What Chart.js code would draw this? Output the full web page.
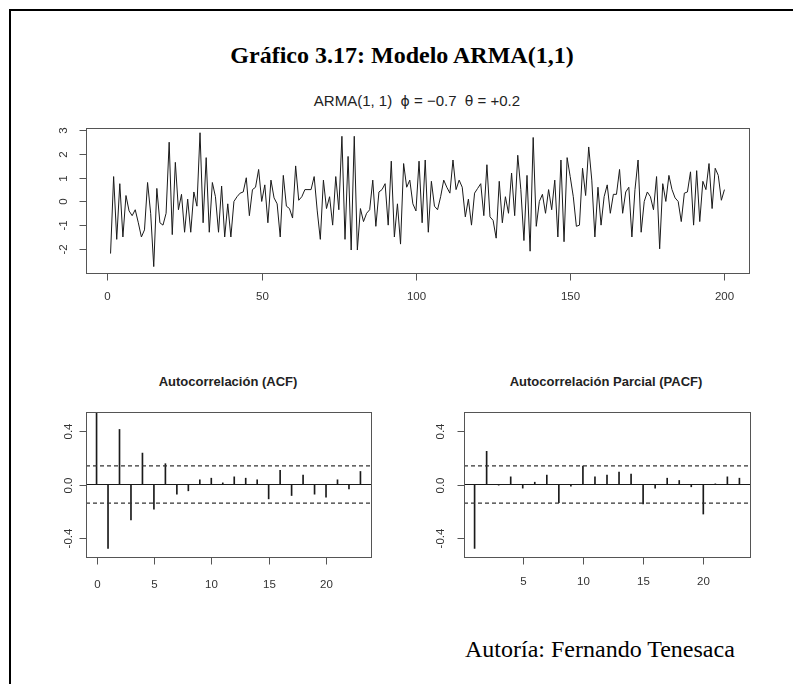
<!DOCTYPE html>
<html>
<head>
<meta charset="utf-8">
<script src="https://cdn.jsdelivr.net/npm/chart.js@4"></script>
<style>
    body { margin: 0; background: #fff; width: 793px; height: 684px; overflow: hidden; position: relative; }
    canvas { position: absolute; left: 0; top: 0; }
    .frame { position: absolute; left: 9px; top: 9px; width: 800px; height: 700px; border-top: 2px solid #000; border-left: 2px solid #000; }
    .txt { position: absolute; white-space: nowrap; line-height: 1; color: #000; }
    .main { font: bold 24px "Liberation Serif", "Times New Roman", serif; left: 402px; top: 42px; transform: translateX(-50%); }
    .sub { font: 15px "Liberation Sans", Arial, sans-serif; left: 417px; top: 92px; transform: translateX(-50%); color: #222; }
    .sub .g { font-family: "DejaVu Sans", sans-serif; font-size: 14px; }
    .ptitle { font: bold 13px "Liberation Sans", Arial, sans-serif; top: 374px; transform: translateX(-50%); color: #222; }
    .foot { font: 24px "Liberation Serif", "Times New Roman", serif; left: 465px; top: 636px; }
</style>
</head>
<body>
<div class="frame"></div>
<div class="txt main">Gráfico 3.17: Modelo ARMA(1,1)</div>
<div class="txt sub">ARMA(1, 1)&nbsp;&nbsp;<span class="g">ϕ</span> = −0.7&nbsp;&nbsp;<span class="g">θ</span> = +0.2</div>
<div class="txt ptitle" style="left:228px">Autocorrelación (ACF)</div>
<div class="txt ptitle" style="left:606px">Autocorrelación Parcial (PACF)</div>
<div class="txt foot">Autoría: Fernando Tenesaca</div>

<canvas id="seriesChart" width="793" height="684"></canvas>
<canvas id="acfChart" width="793" height="684"></canvas>
<canvas id="pacfChart" width="793" height="684"></canvas>

<script>
// simulated ARMA(1,1) series, t = 1..200
const series = [
    -2.2, 1.05, -1.6, 0.75, -1.5, 0.25, -0.4, -0.6, -0.35, -0.9,
    -1.5, -1.2, 0.8, -0.5, -2.75, 0.55, -0.9, -1.0, -0.5, 2.5,
    -1.4, 1.65, -0.35, 0.3, -1.3, 0.1, -1.3, 0.4, -0.2, 2.9,
    -0.9, 1.85, -1.3, 0.8, 0.2, -1.3, 0.65, -1.5, -0.1, -1.5,
    0.0, 0.2, 0.35, 0.4, 1.0, -0.6, 0.5, 0.6, 1.35, 0.0,
    0.7, -0.9, 0.9, 0.15, -0.1, -1.5, 1.1, -0.2, -0.3, -0.7,
    1.5, 0.05, 0.2, 0.5, 0.5, 0.5, 1.05, -0.4, -1.6, 0.9,
    -0.3, 0.2, -1.0, 1.05, -0.35, 2.75, -1.6, 1.9, -2.05, 2.75,
    -2.05, -0.3, -0.85, -0.5, -0.35, 0.9, -1.05, 0.4, 0.5, 0.75,
    -1.0, 1.7, -1.5, -0.1, -1.8, 1.6, 0.6, 0.9, -0.1, -0.4,
    1.7, -0.9, 1.75, -1.3, 0.85, -0.2, -0.35, 0.2, 0.9, 0.6,
    0.35, 1.75, 0.5, 0.9, 0.6, -0.65, 0.1, -1.0, 0.35, 0.55,
    0.75, -0.6, 1.55, -0.65, -0.8, -1.55, 0.85, -0.9, 0.2, -0.5,
    1.2, -0.6, 1.95, 0.5, -1.65, 1.1, -2.1, 2.7, -1.05, 0.0,
    0.3, -0.5, 0.5, -0.35, 0.9, -1.5, 1.75, -1.7, 1.85, 1.05,
    0.2, -1.05, -1.0, 1.4, 0.25, 2.3, 0.9, -1.5, 0.6, -1.0,
    0.2, 0.7, -0.5, 0.3, 0.3, 1.35, -0.5, 0.4, 0.6, -1.5,
    0.5, 1.75, -1.3, 0.0, 0.4, 0.2, -0.35, 1.05, -2.0, 0.75,
    0.0, 1.1, 0.5, 0.15, 0.0, -0.85, 0.35, 0.4, 1.25, -1.0,
    1.3, -0.85, 0.85, 0.5, 1.6, -0.3, 1.4, 1.1, 0.05, 0.5
];

const acfLags = [0, 1, 2, 3, 4, 5, 6, 7, 8, 9, 10, 11, 12, 13, 14, 15, 16, 17, 18, 19, 20, 21, 22, 23];
const acfValues = [1, -0.476, 0.41, -0.264, 0.234, -0.184, 0.155, -0.072, -0.047, 0.035, 0.047, 0.012,
    0.057, 0.047, 0.035, -0.107, 0.105, -0.082, 0.07, -0.072, -0.095, 0.035, -0.032, 0.097];

const pacfLags = [1, 2, 3, 4, 5, 6, 7, 8, 9, 10, 11, 12, 13, 14, 15, 16, 17, 18, 19, 20, 21, 22, 23];
const pacfValues = [-0.476, 0.247, -0.005, 0.057, -0.027, 0.017, 0.07, -0.135, -0.012, 0.137, 0.057, 0.07,
    0.092, 0.077, -0.145, -0.027, 0.047, 0.03, -0.017, -0.22, 0.005, 0.057, 0.047];

const confLimit = 0.139; // dashed band

const seriesXTicks = [0, 50, 100, 150, 200];
const seriesYTicks = [-2, -1, 0, 1, 2, 3];
const acfXTicks = [0, 5, 10, 15, 20];
const pacfXTicks = [5, 10, 15, 20];
const corrYTicks = [-0.4, 0.0, 0.4];
const corrYLabels = ['-0.4', '0.0', '0.4'];

// R style box + outward ticks
function rAxes(cfg) {
    return {
        id: 'rAxes',
        afterDraw(chart) {
            const { ctx, chartArea: a } = chart;
            const xs = chart.scales.x, ys = chart.scales.y;
            const L = Math.round(a.left) + 0.5, R = Math.round(a.right) + 0.5;
            const T = Math.round(a.top) + 0.5, B = Math.round(a.bottom) + 0.5;
            ctx.save();
            ctx.strokeStyle = '#555';
            ctx.lineWidth = 1;
            ctx.strokeRect(L, T, R - L, B - T);
            ctx.fillStyle = '#333';
            ctx.font = '11.5px "Liberation Sans", Arial, sans-serif';
            ctx.textAlign = 'center';
            ctx.textBaseline = 'alphabetic';
            cfg.xTicks.forEach(v => {
                const px = Math.round(xs.getPixelForValue(v)) + 0.5;
                ctx.beginPath();
                ctx.moveTo(px, B);
                ctx.lineTo(px, B + 7);
                ctx.stroke();
                ctx.fillText(String(v), px, cfg.xLabelY);
            });
            cfg.yTicks.forEach((v, i) => {
                const py = Math.round(ys.getPixelForValue(v)) + 0.5;
                ctx.beginPath();
                ctx.moveTo(L, py);
                ctx.lineTo(L - 7, py);
                ctx.stroke();
                ctx.save();
                ctx.translate(L - cfg.yLabelGap, py);
                ctx.rotate(-Math.PI / 2);
                ctx.textBaseline = 'middle';
                ctx.fillText(cfg.yLabels[i], 0, 0);
                ctx.restore();
            });
            ctx.restore();
        }
    };
}

function hiddenScales(xMin, xMax, yMin, yMax) {
    return {
        x: { type: 'linear', min: xMin, max: xMax, offset: false, display: false, grid: { offset: false } },
        y: { type: 'linear', min: yMin, max: yMax, display: false }
    };
}

const baseOptions = {
    responsive: false,
    animation: false,
    devicePixelRatio: 1,
    plugins: { legend: { display: false }, tooltip: { enabled: false } }
};

// time series
new Chart(document.getElementById('seriesChart'), {
    type: 'line',
    data: {
        datasets: [{
            data: series.map((v, i) => ({ x: i + 1, y: v })),
            borderColor: '#1a1a1a',
            borderWidth: 1,
            pointRadius: 0,
            tension: 0,
            fill: false
        }]
    },
    options: {
        ...baseOptions,
        layout: { padding: { left: 86, top: 128, right: 44, bottom: 411 } },
        scales: hiddenScales(-6.96, 207.96, -3.02, 3.10)
    },
    plugins: [rAxes({ xTicks: seriesXTicks, yTicks: seriesYTicks, yLabels: seriesYTicks.map(String), xLabelY: 300, yLabelGap: 23 })]
});

function corrChart(id, lags, values, xMin, xMax, padding, xTicks, xLabelY, yLabelGap) {
    return new Chart(document.getElementById(id), {
        type: 'bar',
        data: {
            datasets: [
                {
                    type: 'line',
                    data: [{ x: xMin, y: 0 }, { x: xMax, y: 0 }],
                    borderColor: '#1a1a1a', borderWidth: 1, pointRadius: 0
                },
                {
                    type: 'line',
                    data: [{ x: xMin, y: confLimit }, { x: xMax, y: confLimit }],
                    borderColor: '#333', borderWidth: 1.2, borderDash: [4, 3], pointRadius: 0
                },
                {
                    type: 'line',
                    data: [{ x: xMin, y: -confLimit }, { x: xMax, y: -confLimit }],
                    borderColor: '#333', borderWidth: 1.2, borderDash: [4, 3], pointRadius: 0
                },
                {
                    data: lags.map((l, i) => ({ x: l, y: values[i] })),
                    backgroundColor: '#1a1a1a',
                    barThickness: 1
                }
            ]
        },
        options: {
            ...baseOptions,
            layout: { padding },
            scales: hiddenScales(xMin, xMax, -0.54, 0.54)
        },
        plugins: [rAxes({ xTicks, yTicks: corrYTicks, yLabels: corrYLabels, xLabelY, yLabelGap })]
    });
}

corrChart('acfChart', acfLags, acfValues, -0.92, 23.92,
    { left: 86, top: 412, right: 422, bottom: 127 }, acfXTicks, 588, 18);
corrChart('pacfChart', pacfLags, pacfValues, 0.12, 23.88,
    { left: 464, top: 412, right: 43, bottom: 127 }, pacfXTicks, 585, 24);
</script>
</body>
</html>
